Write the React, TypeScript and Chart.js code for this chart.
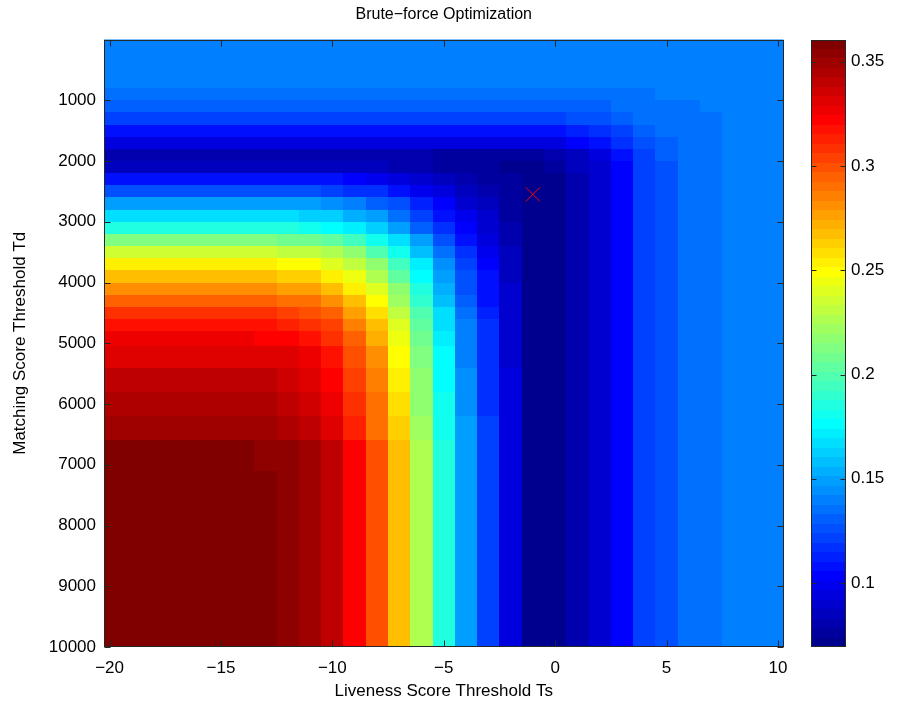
import React, { useEffect, useRef } from "react";
import { Chart, registerables } from "chart.js";

Chart.register(...registerables);

// Liveness score thresholds (column centres) and matching score thresholds (row centres)
const xCenters = [-20, -19, -18, -17, -16, -15, -14, -13, -12, -11, -10, -9, -8, -7, -6, -5, -4, -3, -2, -1, 0, 1, 2, 3, 4, 5, 6, 7, 8, 9, 10];
const yCenters = [0, 400, 700, 900, 1100, 1300, 1500, 1700, 1900, 2100, 2300, 2500, 2700, 2900, 3100, 3300, 3500, 3700, 3900, 4100, 4300, 4500, 4700, 4900, 5200, 5600, 6000, 6400, 6800, 7400, 8200, 9000, 10000];

// error values, one array per Td row (x = -20 ... 10)
const td0 = [0.14, 0.14, 0.14, 0.14, 0.14, 0.14, 0.14, 0.14, 0.14, 0.14, 0.14, 0.14, 0.14, 0.14, 0.14, 0.14, 0.14, 0.14, 0.14, 0.14, 0.14, 0.14, 0.14, 0.14, 0.14, 0.14, 0.14, 0.14, 0.14, 0.14, 0.14];
const td400 = [0.14, 0.14, 0.14, 0.14, 0.14, 0.14, 0.14, 0.14, 0.14, 0.14, 0.14, 0.14, 0.14, 0.14, 0.14, 0.14, 0.14, 0.14, 0.14, 0.14, 0.14, 0.14, 0.14, 0.14, 0.14, 0.14, 0.14, 0.14, 0.14, 0.14, 0.14];
const td700 = [0.139, 0.139, 0.139, 0.139, 0.139, 0.139, 0.139, 0.139, 0.139, 0.139, 0.139, 0.139, 0.139, 0.139, 0.139, 0.139, 0.139, 0.139, 0.139, 0.139, 0.139, 0.139, 0.139, 0.139, 0.14, 0.14, 0.14, 0.14, 0.14, 0.14, 0.14];
const td900 = [0.135, 0.135, 0.135, 0.135, 0.135, 0.135, 0.135, 0.135, 0.135, 0.135, 0.135, 0.135, 0.135, 0.135, 0.135, 0.135, 0.135, 0.135, 0.135, 0.135, 0.135, 0.136, 0.136, 0.136, 0.137, 0.138, 0.14, 0.14, 0.14, 0.14, 0.14];
const td1100 = [0.131, 0.131, 0.131, 0.131, 0.131, 0.131, 0.131, 0.131, 0.131, 0.131, 0.131, 0.131, 0.131, 0.131, 0.131, 0.131, 0.131, 0.131, 0.131, 0.131, 0.131, 0.132, 0.133, 0.135, 0.136, 0.136, 0.136, 0.139, 0.14, 0.14, 0.14];
const td1300 = [0.122, 0.122, 0.122, 0.122, 0.122, 0.122, 0.122, 0.122, 0.122, 0.122, 0.122, 0.122, 0.122, 0.122, 0.122, 0.122, 0.122, 0.122, 0.122, 0.122, 0.122, 0.125, 0.127, 0.13, 0.134, 0.135, 0.136, 0.137, 0.14, 0.14, 0.14];
const td1500 = [0.108, 0.108, 0.108, 0.108, 0.108, 0.108, 0.108, 0.108, 0.108, 0.108, 0.108, 0.108, 0.108, 0.108, 0.108, 0.108, 0.108, 0.108, 0.108, 0.108, 0.109, 0.113, 0.117, 0.123, 0.131, 0.134, 0.136, 0.136, 0.14, 0.14, 0.14];
const td1700 = [0.096, 0.096, 0.096, 0.096, 0.096, 0.096, 0.096, 0.096, 0.096, 0.096, 0.096, 0.096, 0.095, 0.095, 0.095, 0.095, 0.095, 0.095, 0.095, 0.095, 0.096, 0.102, 0.107, 0.116, 0.127, 0.132, 0.135, 0.136, 0.14, 0.14, 0.14];
const td1900 = [0.08, 0.08, 0.08, 0.08, 0.08, 0.08, 0.08, 0.08, 0.08, 0.08, 0.08, 0.08, 0.079, 0.079, 0.079, 0.078, 0.078, 0.078, 0.077, 0.078, 0.079, 0.087, 0.095, 0.107, 0.122, 0.129, 0.136, 0.137, 0.139, 0.14, 0.14];
const td2100 = [0.087, 0.087, 0.087, 0.087, 0.087, 0.087, 0.087, 0.086, 0.086, 0.086, 0.086, 0.085, 0.084, 0.082, 0.08, 0.078, 0.076, 0.075, 0.073, 0.073, 0.074, 0.083, 0.091, 0.105, 0.121, 0.128, 0.135, 0.137, 0.139, 0.14, 0.14];
const td2300 = [0.108, 0.108, 0.108, 0.108, 0.108, 0.108, 0.108, 0.108, 0.108, 0.107, 0.106, 0.104, 0.101, 0.096, 0.091, 0.086, 0.081, 0.077, 0.074, 0.072, 0.072, 0.081, 0.09, 0.104, 0.121, 0.128, 0.135, 0.137, 0.139, 0.14, 0.14];
const td2500 = [0.126, 0.126, 0.126, 0.126, 0.126, 0.126, 0.126, 0.126, 0.125, 0.124, 0.123, 0.119, 0.115, 0.109, 0.101, 0.093, 0.085, 0.08, 0.075, 0.071, 0.072, 0.081, 0.09, 0.104, 0.12, 0.127, 0.135, 0.137, 0.139, 0.14, 0.14];
const td2700 = [0.149, 0.149, 0.149, 0.149, 0.149, 0.149, 0.149, 0.149, 0.148, 0.147, 0.144, 0.139, 0.133, 0.124, 0.113, 0.102, 0.092, 0.084, 0.077, 0.071, 0.072, 0.081, 0.09, 0.104, 0.12, 0.127, 0.135, 0.137, 0.139, 0.14, 0.14];
const td2900 = [0.167, 0.167, 0.167, 0.167, 0.167, 0.167, 0.167, 0.167, 0.166, 0.164, 0.161, 0.155, 0.147, 0.137, 0.123, 0.109, 0.097, 0.088, 0.078, 0.071, 0.072, 0.081, 0.09, 0.104, 0.12, 0.127, 0.135, 0.137, 0.139, 0.14, 0.14];
const td3100 = [0.186, 0.186, 0.186, 0.186, 0.186, 0.186, 0.186, 0.185, 0.184, 0.182, 0.178, 0.171, 0.162, 0.149, 0.133, 0.116, 0.102, 0.091, 0.08, 0.071, 0.072, 0.081, 0.09, 0.104, 0.12, 0.127, 0.135, 0.137, 0.139, 0.14, 0.14];
const td3300 = [0.213, 0.213, 0.213, 0.213, 0.213, 0.213, 0.213, 0.212, 0.21, 0.208, 0.204, 0.195, 0.183, 0.168, 0.147, 0.127, 0.109, 0.096, 0.082, 0.071, 0.072, 0.081, 0.09, 0.104, 0.12, 0.127, 0.135, 0.137, 0.139, 0.14, 0.14];
const td3500 = [0.235, 0.235, 0.235, 0.235, 0.235, 0.235, 0.235, 0.235, 0.233, 0.23, 0.225, 0.215, 0.201, 0.183, 0.16, 0.136, 0.115, 0.1, 0.084, 0.072, 0.072, 0.081, 0.09, 0.104, 0.12, 0.127, 0.135, 0.137, 0.139, 0.14, 0.14];
const td3700 = [0.254, 0.254, 0.254, 0.254, 0.254, 0.254, 0.254, 0.253, 0.251, 0.248, 0.242, 0.231, 0.216, 0.196, 0.17, 0.143, 0.12, 0.103, 0.085, 0.072, 0.072, 0.081, 0.09, 0.104, 0.12, 0.127, 0.135, 0.137, 0.139, 0.14, 0.14];
const td3900 = [0.267, 0.267, 0.267, 0.267, 0.267, 0.267, 0.267, 0.266, 0.264, 0.261, 0.255, 0.243, 0.227, 0.205, 0.177, 0.149, 0.124, 0.106, 0.087, 0.072, 0.072, 0.081, 0.09, 0.104, 0.12, 0.127, 0.135, 0.137, 0.139, 0.14, 0.14];
const td4100 = [0.281, 0.281, 0.281, 0.281, 0.281, 0.281, 0.281, 0.28, 0.278, 0.275, 0.268, 0.255, 0.238, 0.215, 0.185, 0.154, 0.128, 0.108, 0.088, 0.072, 0.072, 0.081, 0.09, 0.104, 0.12, 0.127, 0.135, 0.137, 0.139, 0.14, 0.14];
const td4300 = [0.295, 0.295, 0.295, 0.295, 0.295, 0.295, 0.295, 0.294, 0.291, 0.288, 0.281, 0.267, 0.249, 0.224, 0.192, 0.16, 0.132, 0.11, 0.089, 0.072, 0.072, 0.081, 0.09, 0.104, 0.12, 0.127, 0.135, 0.137, 0.139, 0.14, 0.14];
const td4500 = [0.308, 0.308, 0.308, 0.308, 0.308, 0.308, 0.308, 0.307, 0.305, 0.301, 0.293, 0.278, 0.259, 0.233, 0.199, 0.165, 0.135, 0.113, 0.09, 0.072, 0.072, 0.081, 0.09, 0.104, 0.12, 0.127, 0.135, 0.137, 0.139, 0.14, 0.14];
const td4700 = [0.317, 0.317, 0.317, 0.317, 0.317, 0.317, 0.317, 0.316, 0.314, 0.31, 0.302, 0.287, 0.267, 0.24, 0.204, 0.169, 0.138, 0.115, 0.091, 0.072, 0.072, 0.081, 0.09, 0.104, 0.12, 0.127, 0.135, 0.137, 0.139, 0.14, 0.14];
const td4900 = [0.325, 0.325, 0.325, 0.325, 0.325, 0.325, 0.325, 0.324, 0.321, 0.317, 0.309, 0.293, 0.273, 0.245, 0.208, 0.172, 0.14, 0.116, 0.091, 0.072, 0.072, 0.081, 0.09, 0.104, 0.12, 0.127, 0.135, 0.137, 0.139, 0.14, 0.14];
const td5200 = [0.333, 0.333, 0.333, 0.333, 0.333, 0.333, 0.333, 0.332, 0.329, 0.325, 0.317, 0.3, 0.279, 0.25, 0.213, 0.175, 0.142, 0.117, 0.092, 0.072, 0.072, 0.081, 0.09, 0.104, 0.12, 0.127, 0.135, 0.137, 0.139, 0.14, 0.14];
const td5600 = [0.34, 0.34, 0.34, 0.34, 0.34, 0.34, 0.34, 0.339, 0.336, 0.332, 0.323, 0.306, 0.285, 0.255, 0.217, 0.178, 0.144, 0.119, 0.093, 0.072, 0.072, 0.081, 0.09, 0.104, 0.12, 0.127, 0.135, 0.137, 0.139, 0.14, 0.14];
const td6000 = [0.345, 0.345, 0.345, 0.345, 0.345, 0.345, 0.345, 0.343, 0.34, 0.336, 0.327, 0.31, 0.288, 0.258, 0.219, 0.18, 0.145, 0.119, 0.093, 0.072, 0.072, 0.081, 0.09, 0.104, 0.12, 0.127, 0.135, 0.137, 0.139, 0.14, 0.14];
const td6400 = [0.349, 0.349, 0.349, 0.349, 0.349, 0.349, 0.349, 0.348, 0.345, 0.34, 0.332, 0.314, 0.292, 0.261, 0.222, 0.182, 0.147, 0.12, 0.094, 0.072, 0.072, 0.081, 0.09, 0.104, 0.12, 0.127, 0.135, 0.137, 0.139, 0.14, 0.14];
const td6800 = [0.357, 0.357, 0.357, 0.357, 0.357, 0.357, 0.357, 0.355, 0.353, 0.348, 0.339, 0.321, 0.298, 0.267, 0.226, 0.185, 0.149, 0.122, 0.094, 0.072, 0.072, 0.081, 0.09, 0.104, 0.12, 0.127, 0.135, 0.137, 0.139, 0.14, 0.14];
const td7400 = [0.358, 0.358, 0.358, 0.358, 0.358, 0.358, 0.358, 0.357, 0.354, 0.349, 0.34, 0.322, 0.299, 0.267, 0.226, 0.185, 0.149, 0.122, 0.094, 0.072, 0.072, 0.081, 0.09, 0.104, 0.12, 0.127, 0.135, 0.137, 0.139, 0.14, 0.14];
const td8200 = [0.358, 0.358, 0.358, 0.358, 0.358, 0.358, 0.358, 0.357, 0.354, 0.349, 0.34, 0.322, 0.299, 0.267, 0.226, 0.185, 0.149, 0.122, 0.094, 0.072, 0.072, 0.081, 0.09, 0.104, 0.12, 0.127, 0.135, 0.137, 0.139, 0.14, 0.14];
const td9000 = [0.358, 0.358, 0.358, 0.358, 0.358, 0.358, 0.358, 0.357, 0.354, 0.349, 0.34, 0.322, 0.299, 0.267, 0.226, 0.185, 0.149, 0.122, 0.094, 0.072, 0.072, 0.081, 0.09, 0.104, 0.12, 0.127, 0.135, 0.137, 0.139, 0.14, 0.14];
const td10000 = [0.358, 0.358, 0.358, 0.358, 0.358, 0.358, 0.358, 0.357, 0.354, 0.349, 0.34, 0.322, 0.299, 0.267, 0.226, 0.185, 0.149, 0.122, 0.094, 0.072, 0.072, 0.081, 0.09, 0.104, 0.12, 0.127, 0.135, 0.137, 0.139, 0.14, 0.14];

const heatRows = [td0, td400, td700, td900, td1100, td1300, td1500, td1700, td1900, td2100, td2300, td2500, td2700, td2900, td3100, td3300, td3500, td3700, td3900, td4100, td4300, td4500, td4700, td4900, td5200, td5600, td6000, td6400, td6800, td7400, td8200, td9000, td10000];

const xTickValues = [-20, -15, -10, -5, 0, 5, 10];
const yTickValues = [1000, 2000, 3000, 4000, 5000, 6000, 7000, 8000, 9000, 10000];
const cbTickValues = [0.1, 0.15, 0.2, 0.25, 0.3, 0.35];
const colorMin = 0.0693;
const colorMax = 0.3607;
const optimum = [{ x: -1, y: 2550 }];

const FONT = "'Liberation Sans', Arial, Helvetica, sans-serif";
const INK = "#000000";
const LINE = "#262626";
const LEVELS = 64;

function jet(k: number): string {
  let r = 0, g = 0, b = 0;
  if (k <= 8) { b = 0.5 + k / 16; }
  else if (k <= 24) { g = (k - 8) / 16; b = 1; }
  else if (k <= 40) { r = (k - 24) / 16; g = 1; b = 1 - (k - 24) / 16; }
  else if (k <= 56) { r = 1; g = 1 - (k - 40) / 16; }
  else { r = 1 - (k - 56) / 16; }
  return `rgb(${Math.round(r * 255)},${Math.round(g * 255)},${Math.round(b * 255)})`;
}

function levelOf(v: number): number {
  const k = Math.floor(((v - colorMin) / (colorMax - colorMin)) * LEVELS) + 1;
  return Math.max(1, Math.min(LEVELS, k));
}

function edgesOf(c: number[]): number[] {
  const e: number[] = [c[0] - (c[1] - c[0]) / 2];
  for (let i = 1; i < c.length; i++) e.push((c[i - 1] + c[i]) / 2);
  e.push(c[c.length - 1] + (c[c.length - 1] - c[c.length - 2]) / 2);
  return e;
}

const fmtNum = (v: number) => (v < 0 ? "\u2212" + String(Math.abs(v)) : String(v));

const heatmapPlugin = {
  id: "heatmap",
  beforeDatasetsDraw(chart: any) {
    const { ctx, chartArea: a } = chart;
    const xs = chart.scales.x;
    const ys = chart.scales.y;
    const xe = edgesOf(xCenters);
    const ye = edgesOf(yCenters);
    ctx.save();
    ctx.beginPath();
    ctx.rect(a.left, a.top, a.right - a.left, a.bottom - a.top);
    ctx.clip();
    for (let j = 0; j < yCenters.length; j++) {
      const p0 = Math.round(ys.getPixelForValue(ye[j]));
      const p1 = Math.round(ys.getPixelForValue(ye[j + 1]));
      const top = Math.min(p0, p1);
      const h = Math.abs(p1 - p0);
      for (let i = 0; i < xCenters.length; i++) {
        const q0 = Math.round(xs.getPixelForValue(xe[i]));
        const q1 = Math.round(xs.getPixelForValue(xe[i + 1]));
        ctx.fillStyle = jet(levelOf(heatRows[j][i]));
        ctx.fillRect(q0, top, q1 - q0, h);
      }
    }
    ctx.restore();

    // colorbar
    const cb = chart.scales.cb;
    const cx0 = Math.round(cb.left + 27);
    const cx1 = Math.round(cb.left + 62.5);
    for (let k = 0; k < LEVELS; k++) {
      const v0 = colorMin + (k * (colorMax - colorMin)) / LEVELS;
      const v1 = colorMin + ((k + 1) * (colorMax - colorMin)) / LEVELS;
      const y0 = Math.round(cb.getPixelForValue(v0));
      const y1 = Math.round(cb.getPixelForValue(v1));
      ctx.fillStyle = jet(k + 1);
      ctx.fillRect(cx0, Math.min(y0, y1), cx1 - cx0, Math.abs(y0 - y1));
    }
  },
  afterDatasetsDraw(chart: any) {
    const { ctx, chartArea: a } = chart;
    const xs = chart.scales.x;
    const ys = chart.scales.y;
    const cb = chart.scales.cb;
    ctx.save();
    ctx.strokeStyle = LINE;
    ctx.lineWidth = 1;
    const L = Math.round(a.left) + 0.5, R = Math.round(a.right) - 0.5;
    const T = Math.round(a.top) + 0.5, B = Math.round(a.bottom) - 0.5;
    ctx.strokeRect(L, T, R - L, B - T);
    ctx.beginPath();
    for (const v of xTickValues) {
      const p = Math.round(xs.getPixelForValue(v)) + 0.5;
      ctx.moveTo(p, B); ctx.lineTo(p, B - 6);
      ctx.moveTo(p, T); ctx.lineTo(p, T + 6);
    }
    for (const v of yTickValues) {
      const p = Math.round(ys.getPixelForValue(v)) + 0.5;
      ctx.moveTo(L, p); ctx.lineTo(L + 6, p);
      ctx.moveTo(R, p); ctx.lineTo(R - 6, p);
    }
    ctx.stroke();
    // colorbar frame & ticks
    const cx0 = Math.round(cb.left + 27) + 0.5;
    const cx1 = Math.round(cb.left + 62.5) - 0.5;
    ctx.strokeRect(cx0, T, cx1 - cx0, B - T);
    ctx.beginPath();
    for (const v of cbTickValues) {
      const p = Math.round(cb.getPixelForValue(v)) + 0.5;
      ctx.moveTo(cx0, p); ctx.lineTo(cx0 + 5, p);
      ctx.moveTo(cx1, p); ctx.lineTo(cx1 - 5, p);
    }
    ctx.stroke();
    // title
    ctx.fillStyle = INK;
    ctx.font = `16px ${FONT}`;
    ctx.textAlign = "center";
    ctx.textBaseline = "middle";
    ctx.fillText("Brute\u2212force Optimization", (a.left + a.right) / 2, 15);
    ctx.restore();
  },
};

export default function App() {
  const ref = useRef<HTMLCanvasElement | null>(null);
  useEffect(() => {
    if (!ref.current) return;
    const tickFont = { family: FONT, size: 17 };
    const noGrid = { display: false, drawTicks: false };
    const chart = new Chart(ref.current, {
      type: "scatter",
      data: {
        datasets: [
          {
            data: optimum,
            pointStyle: "crossRot",
            pointRadius: 10,
            pointHoverRadius: 10,
            borderColor: "rgb(255,0,0)",
            backgroundColor: "rgb(255,0,0)",
            borderWidth: 1,
            showLine: false,
          },
        ],
      },
      options: {
        responsive: false,
        animation: false,
        events: [],
        layout: { padding: { top: 39.5, left: 0, right: 0, bottom: 0 } },
        plugins: { legend: { display: false }, tooltip: { enabled: false }, title: { display: false } },
        scales: {
          x: {
            type: "linear",
            min: -20.25,
            max: 10.25,
            grid: noGrid,
            border: { display: false },
            afterBuildTicks: (s: any) => { s.ticks = xTickValues.map((v) => ({ value: v })); },
            afterFit: (s: any) => { s.height = 57; s.paddingLeft = 0; s.paddingRight = 0; },
            ticks: { font: tickFont, color: INK, padding: 11, maxRotation: 0, autoSkip: false, callback: (v: any) => fmtNum(Number(v)) },
            title: { display: true, text: "Liveness Score Threshold Ts", font: tickFont, color: INK, padding: { top: 0, bottom: 2 } },
          },
          y: {
            type: "linear",
            reverse: true,
            min: 0,
            max: 10000,
            position: "left",
            grid: noGrid,
            border: { display: false },
            afterBuildTicks: (s: any) => { s.ticks = yTickValues.map((v) => ({ value: v })); },
            afterFit: (s: any) => { s.width = 104; s.paddingTop = 0; s.paddingBottom = 0; },
            ticks: { font: tickFont, color: INK, padding: 8, autoSkip: false, callback: (v: any) => String(v) },
            title: { display: true, text: "Matching Score Threshold Td", font: tickFont, color: INK, padding: { top: 10, bottom: 0 } },
          },
          cb: {
            type: "linear",
            axis: "y",
            position: "right",
            min: colorMin,
            max: colorMax,
            grid: noGrid,
            border: { display: false },
            afterBuildTicks: (s: any) => { s.ticks = cbTickValues.map((v) => ({ value: v })); },
            afterFit: (s: any) => { s.width = 114.5; s.paddingTop = 0; s.paddingBottom = 0; },
            ticks: { font: tickFont, color: INK, padding: 67.5, autoSkip: false, callback: (v: any) => String(v) },
          },
        },
      } as any,
      plugins: [heatmapPlugin],
    });
    return () => chart.destroy();
  }, []);
  return (
    <div style={{ position: "absolute", left: 0, top: 0, width: 898, height: 704, background: "#fff" }}>
      <canvas ref={ref} width={898} height={704} style={{ display: "block" }} />
    </div>
  );
}
